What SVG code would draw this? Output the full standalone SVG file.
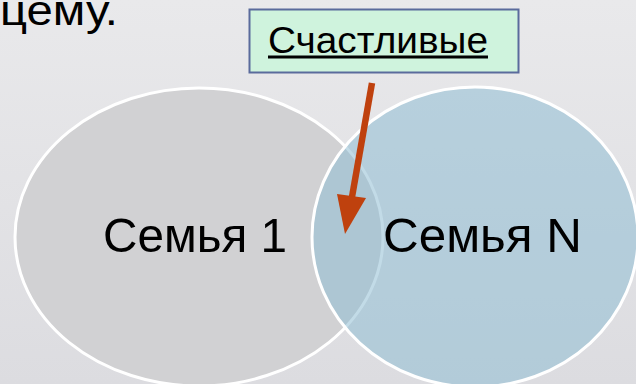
<svg xmlns="http://www.w3.org/2000/svg" width="636" height="384" viewBox="0 0 636 384">
<defs>
<linearGradient id="bg" x1="0" y1="0" x2="0" y2="1">
<stop offset="0" stop-color="#e9e9eb"/>
<stop offset="1" stop-color="#dcdce0"/>
</linearGradient>
<style>
.t{font-family:"Liberation Sans",Arial,sans-serif;fill:#000;}
.ring{stroke:#fff;stroke-width:3;}
.arrow{fill:#bf410e;stroke:#bf410e;}
</style>
</defs>
<rect width="636" height="384" fill="url(#bg)"/>
<text class="t" x="0" y="25" font-size="42" textLength="118" lengthAdjust="spacingAndGlyphs">цему.</text>
<g id="family1">
<ellipse class="ring" cx="199" cy="237" rx="184" ry="149" fill="#d1d1d3"/>
</g>
<g id="familyN">
<ellipse cx="475" cy="237" rx="163" ry="150" fill="#8fbed4" fill-opacity="0.55"/>
<ellipse cx="475" cy="237" rx="163" ry="150" fill="none" class="ring"/>
</g>
<text class="t" x="103" y="252" font-size="49" textLength="184" lengthAdjust="spacingAndGlyphs">Семья 1</text>
<text class="t" x="383" y="252" font-size="49" textLength="199" lengthAdjust="spacingAndGlyphs">Семья N</text>
<g id="label">
<rect x="249.5" y="9.5" width="269" height="63" fill="#cff3dd" stroke="#5a6b9c" stroke-width="2"/>
<text class="t" x="268" y="53" font-size="36" textLength="220" lengthAdjust="spacingAndGlyphs">Счастливые</text>
<rect x="268" y="55.5" width="220" height="3" fill="#000"/>
</g>
<g id="connectors">
<line class="arrow" x1="372" y1="83" x2="352" y2="197" stroke-width="6.5"/>
<polygon class="arrow" stroke-width="0" points="337,194 366,198 345,234"/>
</g>
</svg>
